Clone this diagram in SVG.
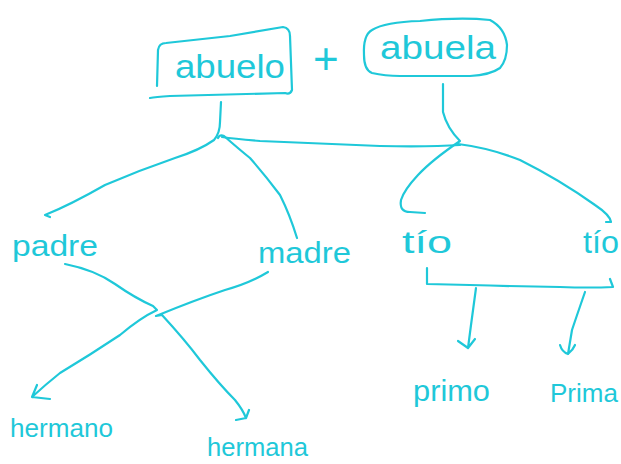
<svg xmlns="http://www.w3.org/2000/svg" width="621" height="464" viewBox="0 0 621 464">
<style>
.s{fill:none;stroke:#1fc8d9;stroke-width:2.2;stroke-linecap:round;stroke-linejoin:round}
.t{fill:#1fc8d9;font-family:"Liberation Sans",Arial,sans-serif}
</style>
<rect width="621" height="464" fill="#ffffff"/>
<g id="abuelo">
<path class="s" d="M157,86 L158,50 Q159,43 166,43 L230,36 Q265,30 283,27 Q290,28 290,36 L292,90 Q290,95 285,93 L170,96 Q155,97 150,98"/>
<text class="t" x="175" y="78" font-size="33" textLength="110" lengthAdjust="spacingAndGlyphs">abuelo</text>
</g>
<g id="plus">
<text class="t" x="313" y="74" font-size="44">+</text>
</g>
<g id="abuela">
<path class="s" d="M372,73 Q364,70 364,55 Q363,35 372,30 Q385,22 420,21 Q460,17 490,20 Q505,28 507,45 Q507,60 500,68 Q490,75 470,76 L400,76 Q385,76 372,73 Z"/>
<text class="t" x="380" y="59" font-size="33" textLength="116" lengthAdjust="spacingAndGlyphs">abuela</text>
</g>
<g id="padre"><text class="t" x="12" y="256" font-size="30" textLength="86" lengthAdjust="spacingAndGlyphs">padre</text></g>
<g id="madre"><text class="t" x="258" y="263" font-size="30" textLength="93" lengthAdjust="spacingAndGlyphs">madre</text></g>
<g id="tio1"><text class="t" x="402" y="253" font-size="32" textLength="50" lengthAdjust="spacingAndGlyphs">tío</text></g>
<g id="tio2"><text class="t" x="583" y="253" font-size="32" textLength="36" lengthAdjust="spacingAndGlyphs">tío</text></g>
<g id="hermano"><text class="t" x="10" y="437" font-size="26" textLength="103" lengthAdjust="spacingAndGlyphs">hermano</text></g>
<g id="hermana"><text class="t" x="207" y="456" font-size="26" textLength="101" lengthAdjust="spacingAndGlyphs">hermana</text></g>
<g id="primo"><text class="t" x="413" y="401" font-size="30" textLength="77" lengthAdjust="spacingAndGlyphs">primo</text></g>
<g id="prima"><text class="t" x="550" y="402" font-size="26">Prima</text></g>
<g id="connectors">
<path class="s" d="M221,102 L220,122 Q220,133 214,140 Q200,150 175,158 Q140,170 105,185 Q70,205 45,215 L50,217"/>
<path class="s" d="M218,138 Q220,134 224,136 Q240,150 250,158 Q265,175 280,195 Q290,215 297,238"/>
<path class="s" d="M222,137 Q235,139 260,141 Q330,144 380,146 Q430,147 460,145"/>
<path class="s" d="M443,84 L443,112 Q447,128 460,141 Q432,160 418,175 Q404,190 401,200 Q399,212 410,212 L425,213"/>
<path class="s" d="M458,144 Q490,148 520,160 Q560,180 595,205 Q610,215 611,222 L606,222"/>
<path class="s" d="M65,264 Q95,270 115,284 Q135,298 153,306 L157,310 Q140,318 120,335 Q90,355 60,373 Q45,385 32,397 M32,397 L37,385 M32,397 L50,399"/>
<path class="s" d="M268,272 Q250,283 225,290 Q195,300 156,316 L162,315 Q185,340 200,360 Q220,385 235,400 Q243,410 246,418 M246,418 L249,410 M246,418 L236,420"/>
<path class="s" d="M427,268 L427,284 Q500,286 560,287 Q590,288 613,287 L610,279"/>
<path class="s" d="M476,288 L471,325 L468,348 M468,348 L458,341 M468,348 L475,339"/>
<path class="s" d="M585,292 Q576,318 572,330 L568,354 Q562,352 560,345 M568,354 Q573,350 575,345"/>
</g>
</svg>
